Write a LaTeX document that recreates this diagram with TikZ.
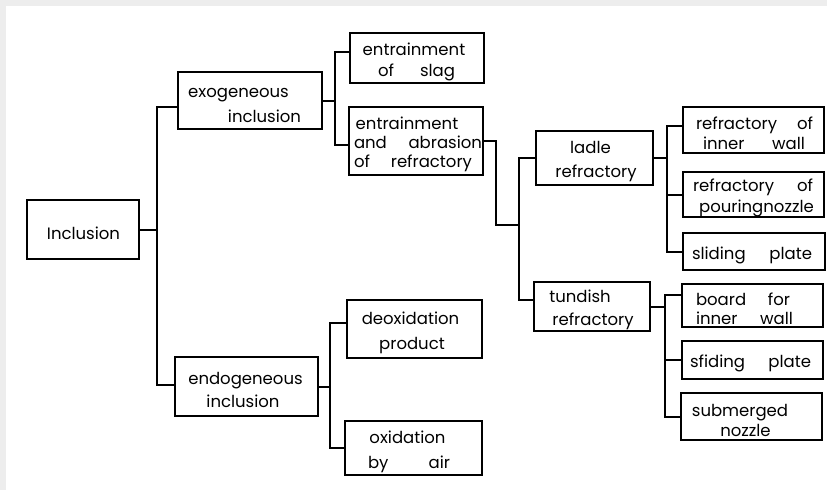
\documentclass[tikz,border=0pt]{standalone}
\usepackage{fontspec}
\setmainfont{Poppins}
% one line of a box: left indent, span width, two words pushed to the span ends
\newcommand{\bxl}[4]{\hspace*{#1pt}\makebox[#2pt][l]{#3\hfill#4}}
% one line of a box: left indent, span width, word centred in the span
\newcommand{\bxw}[3]{\hspace*{#1pt}\makebox[#2pt][c]{#3}}
% strut that lowers the text block a little inside its box
\newcommand{\bxt}{\rule{0pt}{20pt}}
\begin{document}
\begin{tikzpicture}[x=1pt,y=-1pt,
  box/.style={draw, line width=1.9pt, inner sep=0pt, align=left,
    font=\fontsize{16.5}{22}\selectfont},
  wire/.style={line width=2pt, line join=miter}]
\useasboundingbox (0,0) rectangle (827,490);
\fill[white] (0,0) rectangle (827,490);
\fill[black!7] (0,0) rectangle (827,6);
\fill[black!7] (0,0) rectangle (6,490);

% root
\node[box, minimum width=112pt, minimum height=59pt, text width=112pt] (inc) at (83,229.5)
  {\bxt\bxw{18}{77}{Inclusion}};

% first level
\node[box, minimum width=144pt, minimum height=57pt, text width=144pt] (exo) at (250,100.5)
  {\bxt\bxw{11}{99}{exogeneous}\\[3pt]\bxw{49}{75}{inclusion}};
\node[box, minimum width=143pt, minimum height=59pt, text width=143pt] (endo) at (246.5,386.5)
  {\bxt\bxw{13}{115}{endogeneous}\\[1pt]\bxw{29}{78}{inclusion}};

% exogeneous sources
\node[box, minimum width=134pt, minimum height=50pt, text width=134pt] (slag) at (417,58)
  {\bxt\bxw{13}{102}{entrainment}\\[-1pt]\bxl{28}{77}{of}{slag}};
\node[box, minimum width=134pt, minimum height=68pt, text width=134pt] (abr) at (416,141)
  {\bxt\bxw{5}{106}{entrainment}\\[-3pt]\bxl{5}{128}{and}{abrasion}\\[-3pt]\bxl{5}{118}{of}{refractory}};

% endogeneous sources
\node[box, minimum width=135pt, minimum height=58pt, text width=135pt] (deox) at (414.5,329)
  {\bxt\bxw{15}{97}{deoxidation}\\[3pt]\bxw{32}{66}{product}};
\node[box, minimum width=137pt, minimum height=54pt, text width=137pt] (oxid) at (413.5,448)
  {\bxt\bxw{20}{85}{oxidation}\\[3pt]\bxl{23}{82}{by}{air}};

% refractory sources
\node[box, minimum width=117pt, minimum height=54pt, text width=117pt] (ladle) at (594.5,158)
  {\bxt\bxw{32}{45}{ladle}\\[2pt]\bxw{14}{92}{refractory}};
\node[box, minimum width=116pt, minimum height=49pt, text width=116pt] (tund) at (592,306.5)
  {\bxt\bxw{14}{64}{tundish}\\[1pt]\bxw{14}{90}{refractory}};

% ladle refractory parts
\node[box, minimum width=141pt, minimum height=46pt, text width=141pt] (rin) at (753.5,130)
  {\bxt\bxl{13}{117}{refractory}{of}\\[-2pt]\bxl{20}{102}{inner}{wall}};
\node[box, minimum width=141pt, minimum height=45pt, text width=141pt] (rpn) at (753.5,194.5)
  {\bxt\bxl{10}{120}{refractory}{of}\\[-1pt]\bxw{17}{113}{pouringnozzle}};
\node[box, minimum width=142pt, minimum height=37pt, text width=142pt] (slp) at (754,251.5)
  {\bxt\bxl{9}{120}{sliding}{plate}};

% tundish refractory parts
\node[box, minimum width=141pt, minimum height=43pt, text width=141pt] (bfi) at (752.5,305.5)
  {\bxt\bxl{14}{94}{board}{for}\\[-3pt]\bxl{14}{97}{inner}{wall}};
\node[box, minimum width=141pt, minimum height=38pt, text width=141pt] (slq) at (752.5,360)
  {\bxt\bxl{8}{121}{sfiding}{plate}};
\node[box, minimum width=141pt, minimum height=47pt, text width=141pt] (sub) at (751.5,416.5)
  {\bxt\bxw{11}{96}{submerged}\\[-2pt]\bxw{37}{55}{nozzle}};

% junction points of the tree
\coordinate (j0) at (157,229.5);
\coordinate (j1) at (335,100.5);
\coordinate (j2) at (330,386.5);
\coordinate (k3) at (496,141);
\coordinate (j3) at (519,225);
\coordinate (j4) at (667,158);
\coordinate (j5) at (665,306.5);

% connectors
\draw[wire] (inc.east) -- (j0);
\draw[wire] ([yshift=-6.5pt]exo.west) -| (j0) |- ([yshift=1.5pt]endo.west);

\draw[wire] (exo.east) -- (j1);
\draw[wire] ([yshift=6pt]slag.west) -| (j1) |- ([yshift=-4pt]abr.west);

\draw[wire] (endo.east) -- (j2);
\draw[wire] ([yshift=6pt]deox.west) -| (j2) |- (oxid.west);

\draw[wire] (abr.east) -- (k3) |- (j3);
\draw[wire] (ladle.west) -| (j3) |- ([yshift=6.5pt]tund.west);

\draw[wire] (ladle.east) -- (j4);
\draw[wire] ([yshift=4pt]rin.west) -| (j4) |- (slp.west);
\draw[wire] (rpn.west) -- (rpn.west -| j4);

\draw[wire] (tund.east) -- (j5);
\draw[wire] ([yshift=10.5pt]bfi.west) -| (j5) |- (sub.west);
\draw[wire] (slq.west) -- (slq.west -| j5);
\end{tikzpicture}
\end{document}
